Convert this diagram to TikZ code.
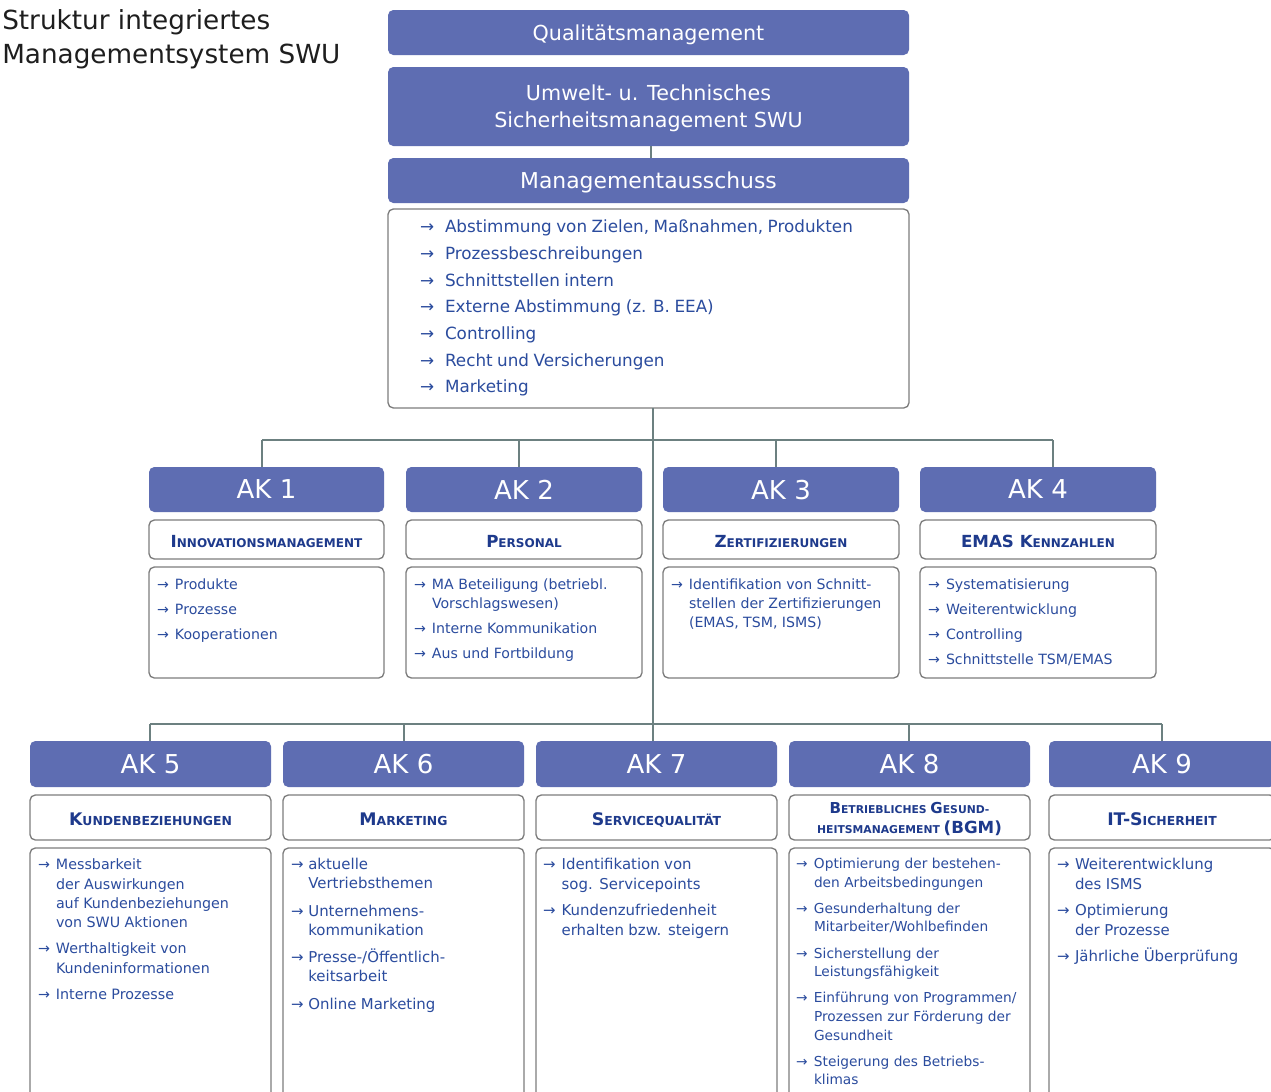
\documentclass[tikz,border=0pt]{standalone}
\usepackage{fontspec}
\setmainfont{DejaVu Sans}
\usetikzlibrary{calc}
\definecolor{hdr}{RGB}{94,109,178}
\definecolor{txt}{RGB}{43,76,158}
\definecolor{subc}{RGB}{30,58,140}
\definecolor{brd}{RGB}{125,125,125}
\definecolor{con}{RGB}{108,128,128}
\definecolor{ttl}{RGB}{30,30,30}
\newlength\arw
\newcommand\itm[1]{\hangindent=\arw\hangafter=1\noindent\makebox[\arw][l]{→}#1\par}
\newcommand\setlst[4]{\fontsize{#1}{#2}\selectfont\setlength\parskip{#3}\setlength\arw{#4}\setlength\parindent{0pt}}
\newcommand\scp[2]{{\fontsize{\bigsz}{14}\selectfont #1}{\fontsize{\smsz}{14}\selectfont #2}}
\newcommand\bx[7]{\node[#6,minimum width={(#4-#2)*0.75pt},minimum height={(#5-#3)*0.75pt}] (#1) at ({(#2+#4)/2},{(#3+#5)/2}) {#7};}
\begin{document}
\begin{tikzpicture}[x=0.75pt,y=-0.75pt,
  hbox/.style={rounded corners=4pt,fill=hdr,draw=none,text=white,inner sep=0pt,outer sep=0pt,align=center,text depth=0pt},
  wbox/.style={rounded corners=4pt,fill=white,draw=brd,line width=1pt,inner sep=0pt,outer sep=0pt,align=center},
  akf/.style={font=\fontsize{19.5}{22}\selectfont},
  sub1/.style={text=subc,text height=12pt,text depth=0pt,font={\bfseries\def\bigsz{12.5}\def\smsz{9}}},
  sub2/.style={text=subc,text height=12.5pt,text depth=0pt,font={\bfseries\def\bigsz{13}\def\smsz{9.3}}},
  lt/.style={anchor=north west,inner sep=0pt,outer sep=0pt,align=left,text=txt},
  conn/.style={draw=con,line width=1.5pt}]
\useasboundingbox (0,0) rectangle (1271,1092);
\fill[white] (0,0) rectangle (1271,1092);
\clip (0,0) rectangle (1271,1092);

% title
\node[anchor=north west,inner sep=0pt,align=left,text=ttl,font=\fontsize{19.7}{26}\selectfont] (title) at (2,9) {Struktur integriertes\\Managementsystem SWU};

% top boxes
\bx{qm}{388}{10}{909}{55}{hbox,font=\fontsize{15.5}{20}\selectfont}{Qualitätsmanagement}
\bx{uw}{388}{67}{909}{146}{hbox,font=\fontsize{15.5}{20.3}\selectfont}{Umwelt- u. Technisches\\Sicherheitsmanagement SWU}
\bx{ma}{388}{158}{909}{203}{hbox,font=\fontsize{16.4}{20}\selectfont}{Managementausschuss}
\bx{lst}{388}{209}{909}{408}{wbox}{}
\node[lt,text width={(909-388-40)*0.75pt}] (lstt) at ($(lst.north west)+(32,11)$) {\setlst{12.6pt}{20pt}{0pt}{18.75pt}%
\itm{Abstimmung von Zielen, Maßnahmen, Produkten}\itm{Prozessbeschreibungen}\itm{Schnittstellen intern}\itm{Externe Abstimmung (z. B. EEA)}\itm{Controlling}\itm{Recht und Versicherungen}\itm{Marketing}};

% row 1
\bx{ak1}{149}{467}{384}{512}{hbox,akf}{AK 1}
\bx{ak2}{406}{467}{642}{512}{hbox,akf}{AK 2}
\bx{ak3}{663}{467}{899}{512}{hbox,akf}{AK 3}
\bx{ak4}{920}{467}{1156}{512}{hbox,akf}{AK 4}
\bx{s1}{149}{520}{384}{559}{wbox,sub1}{\scp{I}{NNOVATIONSMANAGEMENT}}
\bx{s2}{406}{520}{642}{559}{wbox,sub1}{\scp{P}{ERSONAL}}
\bx{s3}{663}{520}{899}{559}{wbox,sub1}{\scp{Z}{ERTIFIZIERUNGEN}}
\bx{s4}{920}{520}{1156}{559}{wbox,sub1}{\scp{EMAS K}{ENNZAHLEN}}
\bx{c1}{149}{567}{384}{678}{wbox}{}
\bx{c2}{406}{567}{642}{678}{wbox}{}
\bx{c3}{663}{567}{899}{678}{wbox}{}
\bx{c4}{920}{567}{1156}{678}{wbox}{}
\node[lt,text width={222*0.75pt}] (c1t) at ($(c1.north west)+(8,12)$) {\setlst{10.6pt}{14.25pt}{4.5pt}{13.5pt}%
\itm{Produkte}\itm{Prozesse}\itm{Kooperationen}};
\node[lt,text width={222*0.75pt}] (c2t) at ($(c2.north west)+(8,12)$) {\setlst{10.6pt}{14.25pt}{4.5pt}{13.5pt}%
\itm{MA Beteiligung (betriebl.\newline Vorschlagswesen)}\itm{Interne Kommunikation}\itm{Aus und Fortbildung}};
\node[lt,text width={222*0.75pt}] (c3t) at ($(c3.north west)+(8,12)$) {\setlst{10.6pt}{14.25pt}{4.5pt}{13.5pt}%
\itm{Identifikation von Schnitt-\newline stellen der Zertifizierungen\newline (EMAS, TSM, ISMS)}};
\node[lt,text width={222*0.75pt}] (c4t) at ($(c4.north west)+(8,12)$) {\setlst{10.6pt}{14.25pt}{4.5pt}{13.5pt}%
\itm{Systematisierung}\itm{Weiterentwicklung}\itm{Controlling}\itm{Schnittstelle TSM/EMAS}};

% row 2
\bx{ak5}{30}{741}{271}{787}{hbox,akf}{AK 5}
\bx{ak6}{283}{741}{524}{787}{hbox,akf}{AK 6}
\bx{ak7}{536}{741}{777}{787}{hbox,akf}{AK 7}
\bx{ak8}{789}{741}{1030}{787}{hbox,akf}{AK 8}
\bx{ak9}{1049}{741}{1275}{787}{hbox,akf}{AK 9}
\bx{s5}{30}{795}{271}{840}{wbox,sub2}{\scp{K}{UNDENBEZIEHUNGEN}}
\bx{s6}{283}{795}{524}{840}{wbox,sub2}{\scp{M}{ARKETING}}
\bx{s7}{536}{795}{777}{840}{wbox,sub2}{\scp{S}{ERVICEQUALITÄT}}
\bx{s8}{789}{795}{1030}{840}{wbox,text=subc,text depth=0pt,font={\bfseries\def\bigsz{11.3}\def\smsz{8.1}}}{\scp{B}{ETRIEBLICHES }\scp{G}{ESUND-}\\[3pt]\scp{}{HEITSMANAGEMENT }{\fontsize{12.5}{14}\selectfont(BGM)}}
\bx{s9}{1049}{795}{1275}{840}{wbox,sub2}{\scp{IT-S}{ICHERHEIT}}
\bx{c5}{30}{848}{271}{1120}{wbox}{}
\bx{c6}{283}{848}{524}{1120}{wbox}{}
\bx{c7}{536}{848}{777}{1120}{wbox}{}
\bx{c8}{789}{848}{1030}{1120}{wbox}{}
\bx{c9}{1049}{848}{1275}{1120}{wbox}{}
\node[lt,text width={228*0.75pt}] (c5t) at ($(c5.north west)+(8,11)$) {\setlst{10.7pt}{14.5pt}{5pt}{13.5pt}%
\itm{Messbarkeit\newline der Auswirkungen\newline auf Kundenbeziehungen\newline von SWU Aktionen}\itm{Werthaltigkeit von\newline Kundeninformationen}\itm{Interne Prozesse}};
\node[lt,text width={228*0.75pt}] (c6t) at ($(c6.north west)+(8,10)$) {\setlst{11.2pt}{14.25pt}{6.5pt}{13pt}%
\itm{aktuelle\newline Vertriebsthemen}\itm{Unternehmens-\newline kommunikation}\itm{Presse-/Öffentlich-\newline keitsarbeit}\itm{Online Marketing}};
\node[lt,text width={228*0.75pt}] (c7t) at ($(c7.north west)+(7,10)$) {\setlst{11.2pt}{15pt}{4.5pt}{14pt}%
\itm{Identifikation von\newline sog. Servicepoints}\itm{Kundenzufriedenheit\newline erhalten bzw. steigern}};
\node[lt,text width={228*0.75pt}] (c8t) at ($(c8.north west)+(7,10)$) {\setlst{10.3pt}{14pt}{5.6pt}{13.5pt}%
\itm{Optimierung der bestehen-\newline den Arbeitsbedingungen}\itm{Gesunderhaltung der\newline Mitarbeiter/Wohlbefinden}\itm{Sicherstellung der\newline Leistungsfähigkeit}\itm{Einführung von Programmen/\newline Prozessen zur Förderung der\newline Gesundheit}\itm{Steigerung des Betriebs-\newline klimas}};
\node[lt,text width={215*0.75pt}] (c9t) at ($(c9.north west)+(8,10)$) {\setlst{11.2pt}{15pt}{4.5pt}{13.5pt}%
\itm{Weiterentwicklung\newline des ISMS}\itm{Optimierung\newline der Prozesse}\itm{Jährliche Überprüfung}};

% connectors
\draw[conn] (651,146) -- (651,158);
\coordinate (tr) at (652.5,408);
\coordinate (b1l) at (262,440);
\coordinate (b1r) at (1053,440);
\coordinate (b2l) at (150,724);
\coordinate (b2r) at (1162,724);
\draw[conn] (lst.south -| tr) -- (ak7.north -| tr);
\draw[conn] (b1l) -- (b1r);
\draw[conn] (b2l) -- (b2r);
\draw[conn] (b1l) -- (ak1.north -| b1l);
\draw[conn] (518.6,440) -- (ak2.north -| 518.6,0);
\draw[conn] (775.7,440) -- (ak3.north -| 775.7,0);
\draw[conn] (b1r) -- (ak4.north -| b1r);
\draw[conn] (b2l) -- (ak5.north -| b2l);
\draw[conn] (403.7,724) -- (ak6.north -| 403.7,0);
\draw[conn] (909,724) -- (ak8.north -| 909,0);
\draw[conn] (b2r) -- (ak9.north -| b2r);
\end{tikzpicture}
\end{document}
